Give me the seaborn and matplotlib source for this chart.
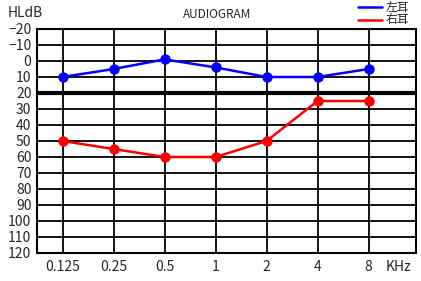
import matplotlib
matplotlib.use("Agg")
import matplotlib.pyplot as plt
import seaborn as sns
import pandas as pd

freqs = ["0.125", "0.25", "0.5", "1", "2", "4", "8"]
left_ear = [10, 5, -1, 4, 10, 10, 5]
right_ear = [50, 55, 60, 60, 50, 25, 25]
y_ticks = list(range(-20, 121, 10))
series_names = ["左耳", "右耳"]
colors = ["#0000ff", "#ff0000"]

sns.set_style("white")
plt.rcParams['font.family'] = ['Noto Sans CJK JP', 'DejaVu Sans']

df = pd.DataFrame({
    "freq": freqs * 2,
    "db": left_ear + right_ear,
    "ear": [series_names[0]] * len(freqs) + [series_names[1]] * len(freqs),
})
df["x"] = list(range(len(freqs))) * 2

fig = plt.figure(figsize=(4.21, 2.81), dpi=100)
ax = fig.add_axes([37/421, 28/281, 379/421, 224/281])

for x in range(len(freqs)):
    ax.axvline(x, color="black", lw=1.3, zorder=1)
for y in y_ticks:
    ax.axhline(y, color="black", lw=1.3, zorder=1)
ax.axhline(20, color="black", lw=3, zorder=1)

sns.lineplot(data=df, x="x", y="db", hue="ear", palette=colors,
             marker="o", markersize=7.5, markeredgewidth=0, linewidth=1.8,
             ax=ax, legend=False, zorder=3)

ax.set_xlim(-0.5, 6.93)
ax.set_ylim(120, -20)
ax.set_xticks(range(len(freqs)))
ax.set_xticklabels(freqs)
ax.set_yticks(y_ticks)
ax.set_yticklabels([str(v).replace("-", "\u2212") for v in y_ticks])
ax.tick_params(axis="both", length=0, labelsize=10, pad=4)
ax.tick_params(axis="x", pad=5)
ax.set_xlabel("")
ax.set_ylabel("")
for s in ax.spines.values():
    s.set_color("black")
    s.set_linewidth(1.5)
    s.set_visible(True)

fig.text(8/421, 1 - 13/281, "HLdB", fontsize=10, va="center", ha="left")
fig.text(217/421, 1 - 15/281, "AUDIOGRAM", fontsize=8.5, va="center", ha="center")
fig.text(398/421, 1 - 267/281, "KHz", fontsize=10, va="center", ha="center")

for i, (name, c) in enumerate(zip(series_names, colors)):
    yy = 1 - (7 + 13 * i) / 281
    fig.add_artist(plt.Line2D([358/421, 382/421], [yy, yy], color=c, lw=1.8,
                              transform=fig.transFigure))
    fig.text(386/421, yy, name, fontsize=8.5, va="center", ha="left")

fig.savefig("out.png", dpi=100)
